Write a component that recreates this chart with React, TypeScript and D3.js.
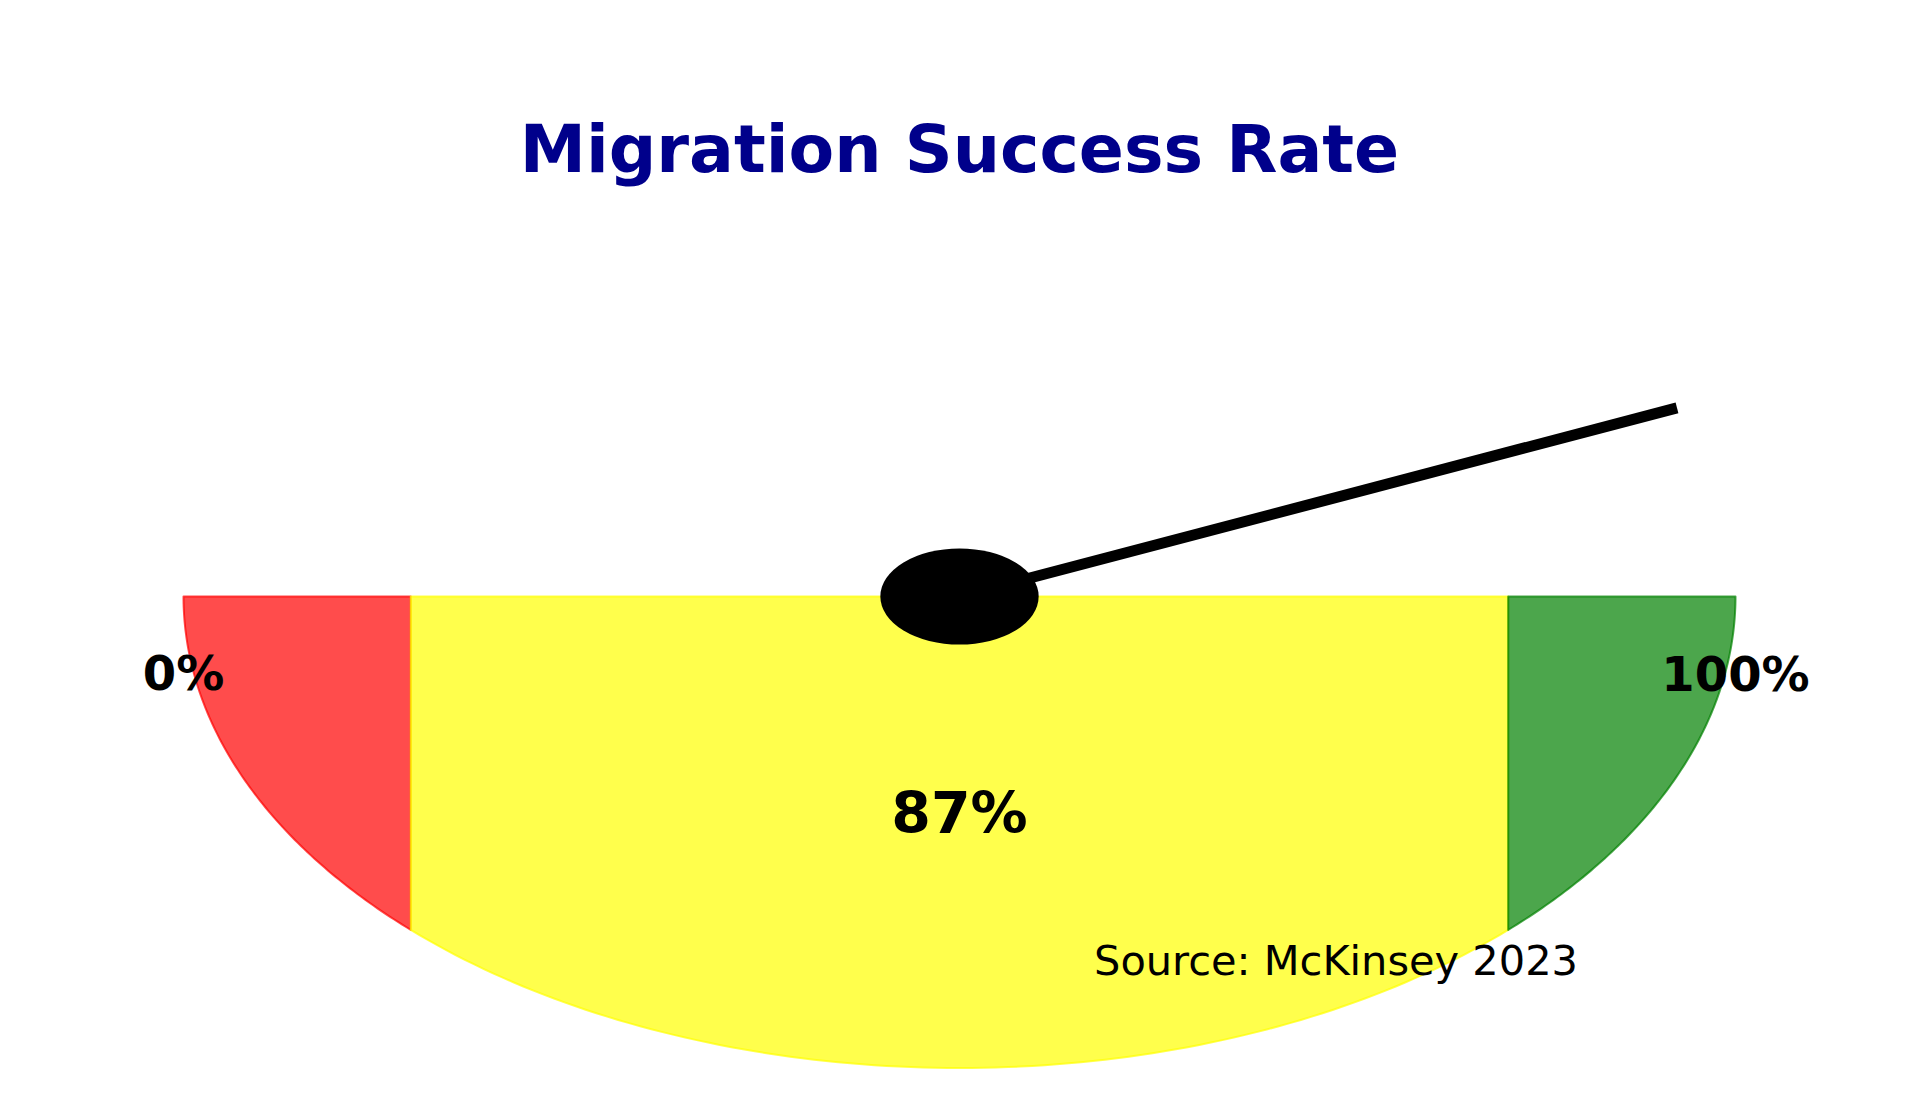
import { useEffect, useRef } from "react";
import * as d3 from "d3";

const title = "Migration Success Rate";
const source = "Source: McKinsey 2023";

// gauge zones in percent
const zoneStarts = [0, 25, 75];
const zoneEnds = [25, 75, 100];
const zoneColors = ["red", "yellow", "green"];

const value = 87;
const minLabel = "0%";
const maxLabel = "100%";
const valueLabel = `${value}%`;

const WIDTH = 1919;
const HEIGHT = 1099;

export default function App() {
  const svgRef = useRef<SVGSVGElement>(null);

  useEffect(() => {
    if (!svgRef.current) return;
    const svg = d3.select(svgRef.current);
    svg.selectAll("*").remove();

    // data space: unit half-ellipse, y up
    const x = d3.scaleLinear().domain([-1, 1]).range([183.5, 1735.5]);
    const y = d3.scaleLinear().domain([-1, 0]).range([1068, 596.5]);

    const font = "DejaVu Sans, Verdana, sans-serif";

    // zone fills (lower half, split by vertical lines at cos of the zone angle)
    zoneStarts.forEach((start, i) => {
      const end = zoneEnds[i];
      const a0 = Math.PI + (start / 100) * Math.PI;
      const a1 = Math.PI + (end / 100) * Math.PI;
      const angles = d3.range(0, 101).map((k) => a0 + ((a1 - a0) * k) / 100);
      const pts: [number, number][] = [[Math.cos(a0), 0]];
      angles.forEach((a) => pts.push([Math.cos(a), Math.sin(a)]));
      pts.push([Math.cos(a1), 0]);

      const line = d3
        .line<[number, number]>()
        .x((d) => x(d[0]))
        .y((d) => y(d[1]));

      svg
        .append("path")
        .attr("d", line(pts) + "Z")
        .attr("fill", zoneColors[i])
        .attr("fill-opacity", 0.7)
        .attr("stroke", zoneColors[i])
        .attr("stroke-opacity", 0.7)
        .attr("stroke-width", 2)
        .attr("stroke-linejoin", "round");
    });

    // needle
    const theta = Math.PI * (1 - value / 100);
    svg
      .append("line")
      .attr("x1", x(0))
      .attr("y1", y(0))
      .attr("x2", x(Math.cos(theta)))
      .attr("y2", y(Math.sin(theta)))
      .attr("stroke", "black")
      .attr("stroke-width", 11)
      .attr("stroke-linecap", "square");

    // hub
    const hubR = 0.102;
    svg
      .append("ellipse")
      .attr("cx", x(0))
      .attr("cy", y(0))
      .attr("rx", x(hubR) - x(0))
      .attr("ry", y(-hubR) - y(0))
      .attr("fill", "black");

    // labels
    svg
      .append("text")
      .attr("x", x(-1))
      .attr("y", 690)
      .attr("text-anchor", "middle")
      .attr("font-family", font)
      .attr("font-weight", "bold")
      .attr("font-size", 48)
      .text(minLabel);

    svg
      .append("text")
      .attr("x", x(1))
      .attr("y", 691)
      .attr("text-anchor", "middle")
      .attr("font-family", font)
      .attr("font-weight", "bold")
      .attr("font-size", 48)
      .text(maxLabel);

    svg
      .append("text")
      .attr("x", x(0))
      .attr("y", 833)
      .attr("text-anchor", "middle")
      .attr("font-family", font)
      .attr("font-weight", "bold")
      .attr("font-size", 57)
      .text(valueLabel);

    svg
      .append("text")
      .attr("x", 1336)
      .attr("y", 975)
      .attr("text-anchor", "middle")
      .attr("font-family", font)
      .attr("font-size", 41.5)
      .attr("fill", "black")
      .text(source);

    svg
      .append("text")
      .attr("x", WIDTH / 2)
      .attr("y", 172)
      .attr("text-anchor", "middle")
      .attr("font-family", font)
      .attr("font-weight", "bold")
      .attr("font-size", 66.5)
      .attr("fill", "#00008B")
      .text(title);
  }, []);

  return (
    <svg
      ref={svgRef}
      width={WIDTH}
      height={HEIGHT}
      style={{ position: "absolute", left: 0, top: 0, display: "block", background: "white" }}
    />
  );
}
